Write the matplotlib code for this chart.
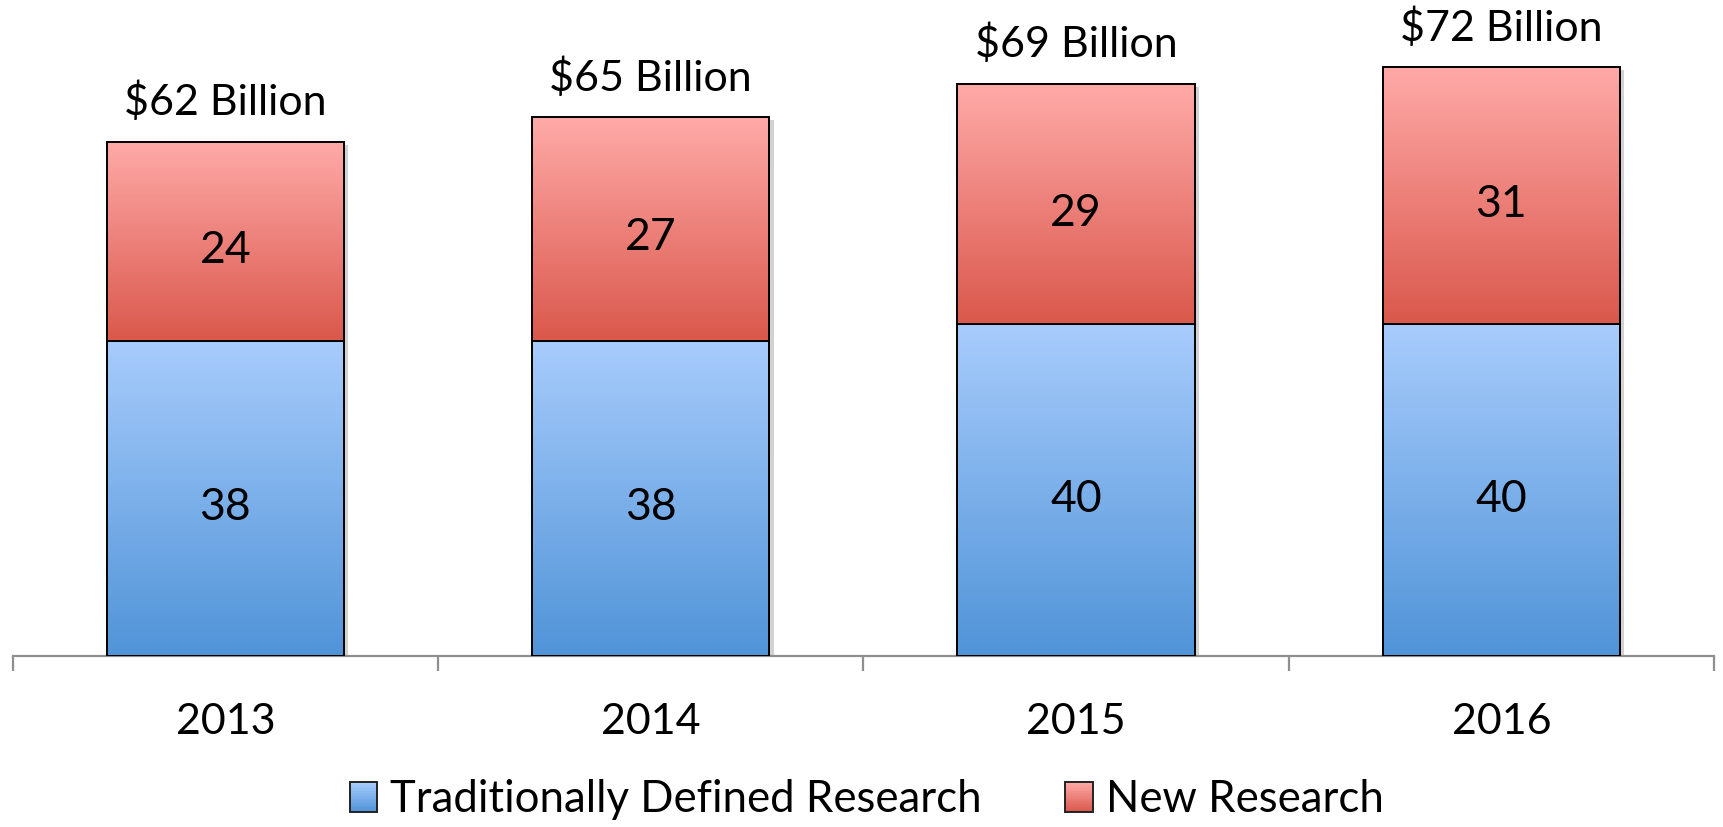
import numpy as np
import matplotlib
matplotlib.use("Agg")
import matplotlib.pyplot as plt
from matplotlib.patches import Rectangle
from matplotlib.legend_handler import HandlerBase
from matplotlib.colors import to_rgb
import matplotlib.patheffects as pe

plt.rcParams['font.family'] = ['Lato', 'DejaVu Sans']

# ---- data ----
years = ["2013", "2014", "2015", "2016"]
traditional = [38, 38, 40, 40]
new_research = [24, 27, 29, 31]
totals = ["$62 Billion", "$65 Billion", "$69 Billion", "$72 Billion"]
series_names = ["Traditionally Defined Research", "New Research"]

blue_top, blue_bot = "#A8CCFC", "#5094D8"
red_top, red_bot = "#FFAAA8", "#DA584C"

fig = plt.figure(figsize=(17.23, 8.27), dpi=100)
ax = fig.add_axes([0.00737, 0.2068, 0.9874, 0.7521])

x = np.arange(len(years))
bw = 0.558


def grad(top, bot, n=256):
    t = np.linspace(0, 1, n)[:, None]
    c1 = np.array(to_rgb(top)); c2 = np.array(to_rgb(bot))
    return (c1 * (1 - t) + c2 * t)[:, None, :]


b1 = ax.bar(x, traditional, bw, facecolor='none', edgecolor='black', linewidth=1.4, zorder=3)
b2 = ax.bar(x, new_research, bw, bottom=traditional, facecolor='none', edgecolor='black',
            linewidth=1.4, zorder=3)

for cont, (ct, cb) in ((b1, (blue_top, blue_bot)), (b2, (red_top, red_bot))):
    for p in cont.patches:
        bx, by, w, h = p.get_x(), p.get_y(), p.get_width(), p.get_height()
        ax.imshow(grad(ct, cb), extent=[bx, bx + w, by, by + h], aspect='auto',
                  origin='upper', zorder=2, interpolation='bilinear')
        sh = Rectangle((bx, by), w, h, facecolor='white', edgecolor='none', zorder=1.5,
                       path_effects=[pe.SimplePatchShadow(offset=(3, -2), alpha=0.25)])
        ax.add_patch(sh)

ax.set_xlim(-0.5, 3.5)
ax.set_ylim(0, 75)
ax.set_aspect('auto')

# labels
for i in range(len(years)):
    ax.annotate(str(traditional[i]), (x[i], traditional[i] / 2), xytext=(0, -15.5),
                textcoords='offset points', ha='center', va='baseline', fontsize=32, zorder=5)
    ax.annotate(str(new_research[i]), (x[i], traditional[i] + new_research[i] / 2),
                xytext=(0, -15.5), textcoords='offset points', ha='center', va='baseline',
                fontsize=32, zorder=5)
    ax.annotate(totals[i], (x[i], traditional[i] + new_research[i]), xytext=(0, 19),
                textcoords='offset points', ha='center', va='baseline', fontsize=31,
                annotation_clip=False)

for s in ['top', 'right', 'left']:
    ax.spines[s].set_visible(False)
ax.spines['bottom'].set_color('#8f8f8f')
ax.spines['bottom'].set_linewidth(1.6)
ax.set_yticks([])
ax.set_xticks(x)
ax.set_xticklabels(years, fontsize=31)
ax.tick_params(axis='x', which='major', length=0, pad=34)
ax.set_xticks(np.arange(-0.5, 4.0, 1.0), minor=True)
ax.tick_params(axis='x', which='minor', length=11, width=1.6, color='#8f8f8f', direction='out')


class GradHandler(HandlerBase):
    def __init__(self, top, bot):
        super().__init__()
        self.top, self.bot = top, bot

    def create_artists(self, legend, orig_handle, xdescent, ydescent, width, height,
                       fontsize, trans):
        arts = []
        n = 20
        c1 = np.array(to_rgb(self.top)); c2 = np.array(to_rgb(self.bot))
        for k in range(n):
            t = (k + 0.5) / n
            col = c1 * (1 - t) + c2 * t
            y0 = -ydescent + height * (1 - (k + 1) / n)
            r = Rectangle((-xdescent, y0), width, height / n + 0.01, facecolor=col,
                          edgecolor='none', transform=trans)
            arts.append(r)
        arts.append(Rectangle((-xdescent, -ydescent), width, height, facecolor='none',
                              edgecolor='#222222', linewidth=1.4, transform=trans))
        return arts


h1 = Rectangle((0, 0), 1, 1)
h2 = Rectangle((0, 0), 1, 1)
fig.legend([h1, h2], series_names, loc='lower center', bbox_to_anchor=(0.503, 0.0), ncol=2,
           frameon=False, fontsize=31.5, handlelength=0.63, handleheight=0.65,
           handletextpad=0.3, columnspacing=1.9, borderpad=0.05, borderaxespad=0.1,
           handler_map={h1: GradHandler(blue_top, blue_bot), h2: GradHandler(red_top, red_bot)})

fig.savefig("out.png", dpi=100)
